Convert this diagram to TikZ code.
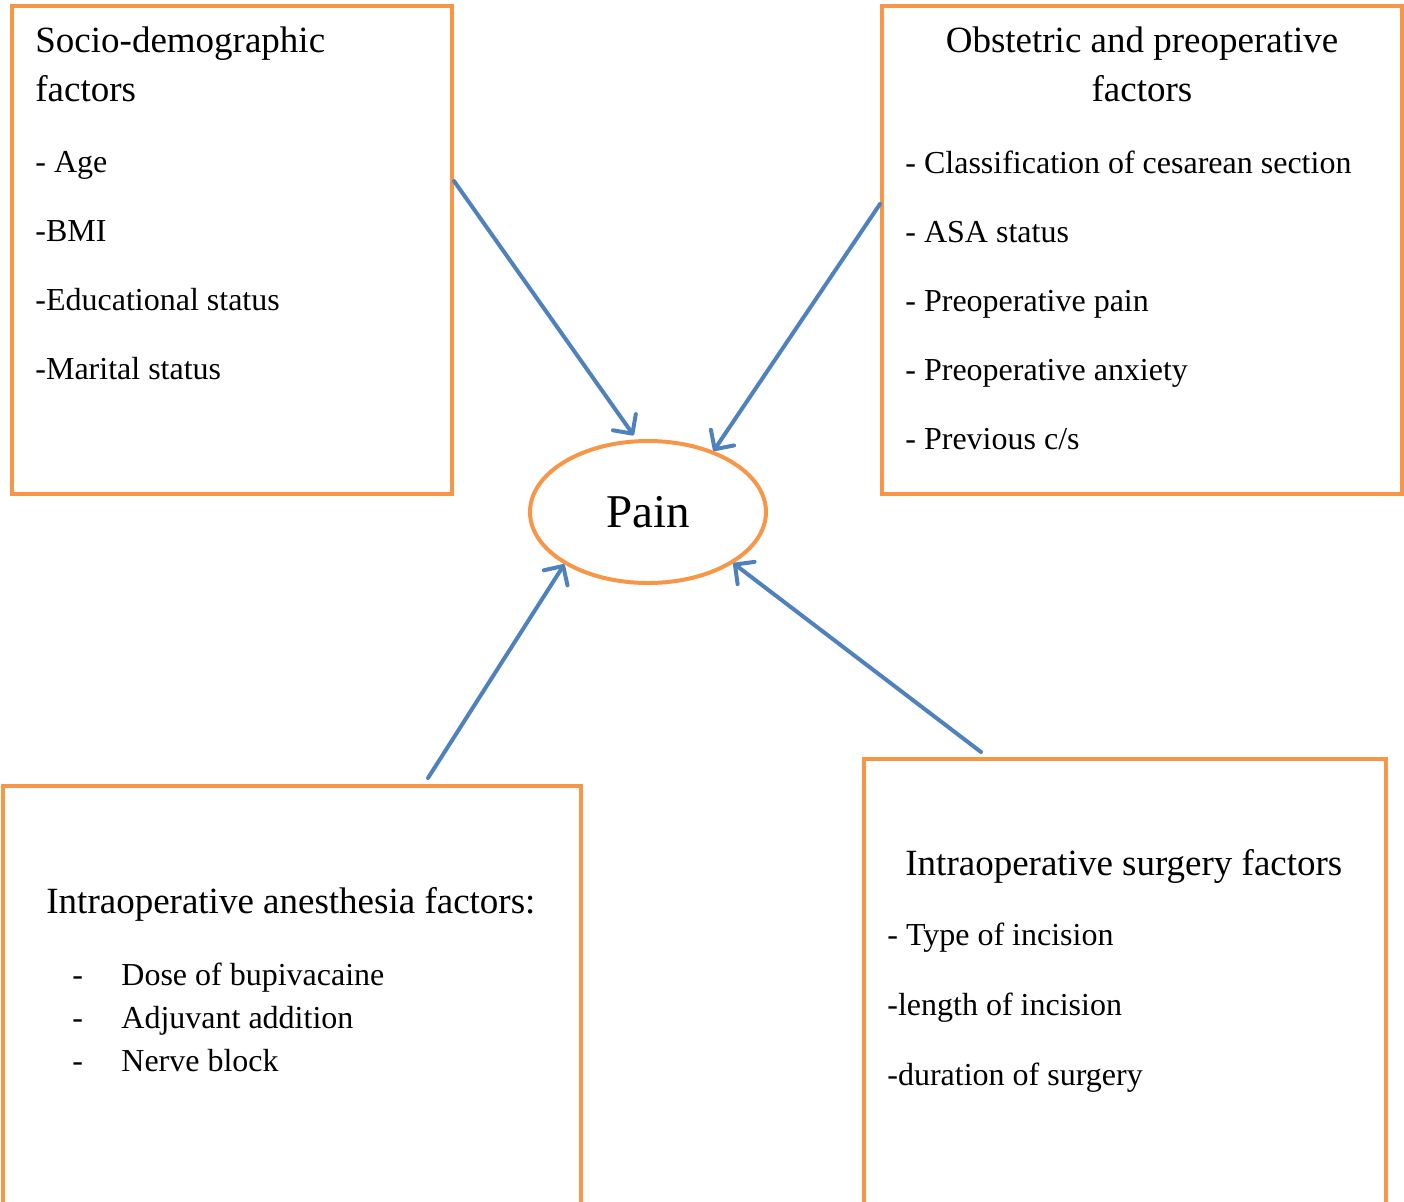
\documentclass[tikz,border=0pt]{standalone}
\usepackage{fontspec}
\setmainfont{Liberation Serif}
\usetikzlibrary{shapes.geometric,arrows.meta}
\definecolor{boxorange}{HTML}{F79646}
\definecolor{arrowblue}{HTML}{4F81BD}
\tikzset{
  factorbox/.style={draw=boxorange, line width=2pt, rectangle, inner sep=0pt, fill=white},
  painnode/.style={draw=boxorange, line width=2pt, ellipse, inner sep=0pt, minimum width=118pt, minimum height=71pt, font=\fontsize{23.5}{28}\selectfont},
  head/.style={inner sep=0pt, font=\fontsize{18.5}{22}\selectfont},
  item/.style={inner sep=0pt, anchor=base west, font=\fontsize{16}{19}\selectfont},
  arr/.style={draw=arrowblue, line width=2pt, line cap=round, -{Straight Barb[length=7pt,width=14pt,line cap=round,line join=round]}},
}
\begin{document}
\begin{tikzpicture}[x=0.5pt,y=-0.5pt]
\useasboundingbox (0,0) rectangle (1404,1201);
% boxes
\node[factorbox, minimum width=220pt, minimum height=244pt] (b1) at (232,250) {};
\node[factorbox, minimum width=260pt, minimum height=244pt] (b2) at (1142,250) {};
\node[factorbox, minimum width=289pt, minimum height=227pt] (b3) at (292,1013) {};
\node[factorbox, minimum width=261pt, minimum height=240.5pt] (b4) at (1125,999.5) {};
\node[painnode] (pain) at (648,512) {Pain};
% box 1 text
\node[head, anchor=base west] (b1h1) at (35,52) {Socio-demographic};
\node[head, anchor=base west] (b1h2) at (35,101) {factors};
\node[item] (b1i1) at (35,172) {- Age};
\node[item] (b1i2) at (35,241) {-BMI};
\node[item] (b1i3) at (35,310) {-Educational status};
\node[item] (b1i4) at (35,379) {-Marital status};
% box 2 text
\node[head, anchor=base] (b2h1) at (1142,52) {Obstetric and preoperative};
\node[head, anchor=base] (b2h2) at (1142,101) {factors};
\node[item] (b2i1) at (905,173) {- Classification of cesarean section};
\node[item] (b2i2) at (905,242) {- ASA status};
\node[item] (b2i3) at (905,311) {- Preoperative pain};
\node[item] (b2i4) at (905,380) {- Preoperative anxiety};
\node[item] (b2i5) at (905,449) {- Previous c/s};
% box 3 text
\node[head, anchor=base west] (b3h) at (46,913) {Intraoperative anesthesia factors:};
\node[item] (b3d1) at (72,985) {-};
\node[item] (b3i1) at (121,985) {Dose of bupivacaine};
\node[item] (b3d2) at (72,1028) {-};
\node[item] (b3i2) at (121,1028) {Adjuvant addition};
\node[item] (b3d3) at (72,1071) {-};
\node[item] (b3i3) at (121,1071) {Nerve block};
% box 4 text
\node[head, anchor=base west] (b4h) at (905,875) {Intraoperative surgery factors};
\node[item] (b4i1) at (887,945) {- Type of incision};
\node[item] (b4i2) at (887,1015) {-length of incision};
\node[item] (b4i3) at (887,1085) {-duration of surgery};
% arrows
\draw[arr, shorten >=2.5pt] ([yshift=-88.5pt]b1.north east) -- (pain.99);
\draw[arr] ([yshift=-100pt]b2.north west) -- (pain.43);
\draw[arr] ([xshift=213.5pt,yshift=3pt]b3.north west) -- (pain.212);
\draw[arr] ([xshift=59.5pt,yshift=2.5pt]b4.north west) -- (pain.-31);
\end{tikzpicture}
\end{document}
